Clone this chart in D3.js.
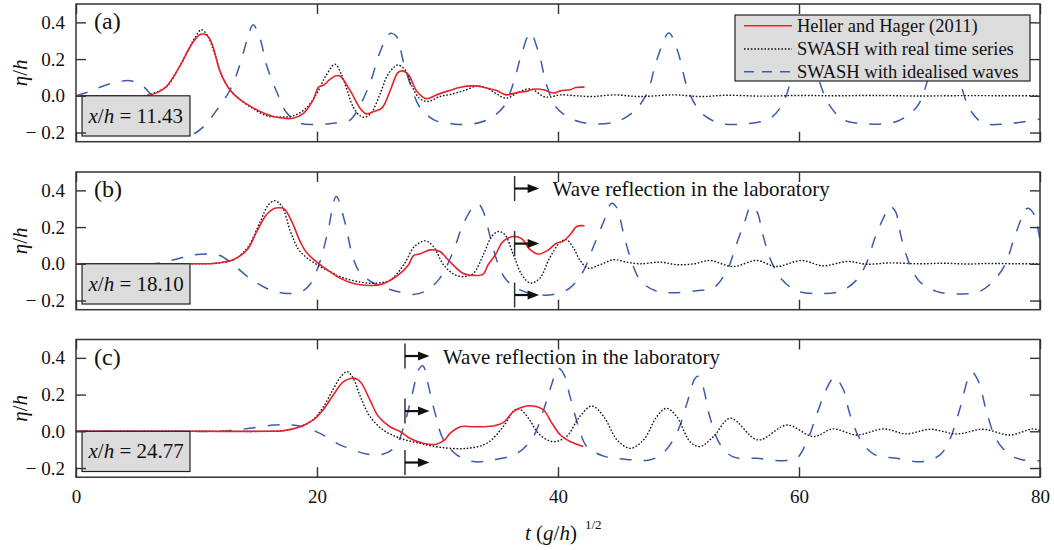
<!DOCTYPE html>
<html><head><meta charset="utf-8">
<script src="https://cdn.jsdelivr.net/npm/d3@7"></script>
<style>
html,body{margin:0;padding:0;background:#fff;}
svg{display:block;font-family:"Liberation Serif","Times New Roman",serif;}
svg text{font-family:"Liberation Serif","Times New Roman",serif;}
</style></head><body>
<svg id="chart" width="1054" height="550"></svg>
<script>
// ---- Time series [t (g/h)^1/2, eta/h] ----
// (a) x/h = 11.43
const hellerA = [[0,0],[2,0],[4,0],[5.9,0.0],[6.8,0.02],[7.5,0.05],[8.6,0.16],[9.5,0.27],[10.2,0.33],[10.7,0.335],[11.1,0.31],[11.4,0.26],[12,0.125],[12.8,0.03],[13.6,-0.02],[14.7,-0.066],[15.8,-0.1],[16.9,-0.12],[18,-0.122],[18.9,-0.094],[19.7,-0.02],[20.1,0.045],[20.6,0.06],[21,0.085],[21.5,0.108],[21.9,0.108],[22.7,0.035],[23.6,-0.07],[24.1,-0.098],[24.7,-0.085],[25.4,-0.066],[26.1,0.033],[26.7,0.125],[27.1,0.136],[27.6,0.114],[28.3,0.024],[29.1,-0.016],[29.9,0.005],[31,0.029],[31.9,0.047],[33,0.054],[33.8,0.047],[34.9,0.029],[35.7,0.005],[36.6,0.018],[37.4,0.024],[37.95,0.036],[38.8,0.033],[39.6,0.015],[40.2,0.027],[41,0.033],[41.5,0.045],[42.2,0.047]];
const swashRealA = [[0,0],[5,0],[6,0.005],[7.5,0.05],[8.6,0.16],[9.4,0.26],[9.9,0.32],[10.4,0.36],[10.9,0.33],[11.5,0.23],[12.1,0.11],[12.8,0.03],[13.6,-0.02],[14.7,-0.07],[15.8,-0.108],[16.9,-0.115],[18,-0.11],[19.1,-0.067],[20,0.015],[20.7,0.105],[21.5,0.172],[22,0.12],[22.5,0.03],[23,-0.06],[23.6,-0.11],[24,-0.116],[24.5,-0.094],[25.2,0.005],[25.8,0.105],[26.3,0.15],[26.7,0.168],[27.3,0.142],[27.9,0.05],[28.5,-0.013],[29.2,-0.031],[30.2,-0.004],[31.3,0.011],[32.4,0.033],[33.3,0.054],[34.1,0.042],[34.9,0.011],[35.7,-0.013],[36.6,0.015],[37.4,0.036],[37.95,0.033],[38.8,-0.004],[39.3,-0.007],[40.2,0.005],[41.5,0.0],[42.9,-0.004],[44.6,0.005],[46.8,-0.004],[49.6,0.005],[51.8,-0.004],[54,0.003],[57,-0.002],[60,0.002],[63,0],[66,0.002],[70,-0.001],[74,0.001],[78,0],[80,0]];
const swashIdealA = [[0,0],[1,0.02],[2,0.047],[3.2,0.072],[4.5,0.082],[5.6,0.05],[6.5,-0.02],[7.5,-0.12],[8.5,-0.19],[9.2,-0.21],[9.8,-0.205],[10.6,-0.167],[11.7,-0.076],[12.8,0.033],[13.6,0.169],[14.2,0.305],[14.7,0.387],[15.3,0.305],[15.8,0.169],[16.7,0.015],[17.5,-0.094],[18.6,-0.149],[20.25,-0.155],[21.5,-0.148],[22.7,-0.134],[23.3,-0.085],[24.4,0.069],[25.2,0.233],[25.9,0.332],[26.2,0.34],[26.6,0.323],[27.2,0.178],[27.9,0.033],[28.5,-0.058],[29.7,-0.131],[31.3,-0.153],[33,-0.153],[34.4,-0.122],[35.5,-0.058],[36.3,0.069],[37,0.233],[37.7,0.342],[38.4,0.233],[39.1,0.05],[39.9,-0.067],[41.3,-0.131],[42.9,-0.153],[44.9,-0.14],[46.3,-0.085],[47.4,0.015],[48.2,0.196],[49.2,0.342],[49.9,0.25],[50.7,0.05],[51.4,-0.05],[52,-0.1],[53.4,-0.149],[55.6,-0.153],[57.6,-0.122],[58.6,-0.049],[59.3,0.078],[59.9,0.25],[60.6,0.342],[61.2,0.25],[61.7,0.078],[62.6,-0.058],[63.7,-0.131],[65.7,-0.153],[68.1,-0.14],[69.8,-0.058],[70.6,0.069],[71.3,0.25],[72,0.342],[72.7,0.25],[73.4,0.069],[74.2,-0.076],[75.3,-0.149],[77.2,-0.153],[80,-0.127]];

// (b) x/h = 18.10
const hellerB = [[0,0],[5,0],[10,0],[11.4,0.002],[12.3,0.01],[13.05,0.022],[14.2,0.076],[15,0.176],[15.8,0.267],[16.4,0.3],[16.9,0.305],[17.3,0.298],[17.9,0.231],[18.6,0.122],[19.1,0.064],[20.25,-0.005],[21.35,-0.055],[21.9,-0.078],[22.7,-0.1],[23.3,-0.111],[24.7,-0.118],[25.5,-0.109],[26.6,-0.069],[27.6,-0.005],[28,0.045],[28.5,0.053],[29.4,0.076],[30.2,0.067],[31,0.013],[32.1,-0.051],[33,-0.063],[33.8,-0.056],[34.2,-0.005],[34.8,0.049],[35.45,0.122],[36.3,0.149],[37,0.136],[37.7,0.076],[38.4,0.053],[39.1,0.071],[39.9,0.113],[40.4,0.122],[41,0.158],[41.55,0.203],[42.2,0.207]];
const swashRealB = [[0,0],[10,0],[11.5,0.003],[13.05,0.022],[14.2,0.085],[15.3,0.231],[15.96,0.321],[16.5,0.343],[17.1,0.312],[17.8,0.176],[18.6,0.067],[20.25,-0.015],[21.35,-0.051],[21.9,-0.07],[23.6,-0.1],[24.95,-0.105],[26.1,-0.087],[27.2,-0.005],[28.1,0.095],[29,0.125],[29.65,0.095],[30.5,-0.005],[31.45,-0.06],[32.3,-0.069],[33,-0.051],[33.8,0.049],[34.5,0.149],[35.05,0.176],[35.6,0.158],[36.3,0.049],[37,-0.06],[37.7,-0.105],[38.5,-0.078],[39.3,0.031],[40.2,0.118],[40.7,0.131],[41.3,0.085],[41.8,0.022],[42.5,-0.024],[43.5,-0.005],[44.6,0.022],[45.7,0.009],[46.8,0],[48.5,0.009],[49.9,-0.005],[51.3,0],[52.6,0.018],[54.5,-0.015],[56.5,0.018],[58.1,-0.015],[60.2,0.018],[62,-0.011],[64,0.013],[65.6,-0.002],[67.6,0.005],[70,0],[72,0.003],[74,-0.001],[76,0.002],[78,0],[80,0.001]];
const swashIdealB = [[0,0],[6,0],[7,0.005],[8.1,0.022],[9.5,0.045],[10.85,0.053],[11.95,0.045],[13.05,-0.005],[14.4,-0.078],[15.8,-0.133],[17.2,-0.16],[18.6,-0.154],[19.4,-0.114],[20.25,0.013],[20.9,0.176],[21.6,0.367],[22.3,0.23],[23,0.031],[23.6,-0.05],[24.95,-0.114],[26.6,-0.15],[28,-0.167],[29.1,-0.145],[30.2,-0.078],[31.3,0.067],[32.1,0.212],[33,0.312],[33.4,0.325],[33.8,0.285],[34.4,0.14],[35.05,-0.005],[35.7,-0.087],[36.85,-0.142],[38.2,-0.167],[39.6,-0.167],[41,-0.131],[42.1,-0.04],[42.9,0.087],[43.8,0.231],[44.45,0.33],[44.9,0.303],[45.4,0.176],[46.1,0.013],[46.9,-0.096],[48.2,-0.15],[49.6,-0.158],[51.5,-0.147],[52.9,-0.131],[54,-0.04],[54.8,0.105],[55.5,0.231],[56,0.312],[56.5,0.285],[57,0.158],[57.7,0.013],[58.6,-0.087],[59.8,-0.147],[61.5,-0.162],[63.4,-0.15],[64.8,-0.087],[65.6,0.004],[66.3,0.14],[67,0.249],[67.55,0.312],[68,0.285],[68.5,0.14],[69.2,-0.005],[70,-0.096],[71.4,-0.15],[73.1,-0.165],[75,-0.15],[76.1,-0.096],[77.1,-0.005],[77.9,0.149],[78.6,0.267],[78.95,0.303],[79.45,0.276],[80,0.131]];

// (c) x/h = 24.77
const hellerC = [[0,0],[10,0],[16,0],[17.2,0.003],[18.6,0.025],[19.7,0.062],[20.5,0.116],[21.35,0.198],[22.2,0.27],[22.9,0.289],[23.3,0.285],[23.7,0.261],[24.4,0.17],[25.1,0.08],[26.05,0.025],[26.9,-0.001],[27.7,-0.038],[28.8,-0.065],[29.9,-0.071],[30.6,-0.047],[31,-0.014],[31.9,0.025],[33,0.025],[34.6,0.029],[35.45,0.047],[36.3,0.107],[37,0.131],[37.95,0.138],[38.8,0.116],[39.5,0.044],[40.2,-0.02],[41,-0.056],[42.1,-0.083]];
const swashRealC = [[0,0],[10,0],[16,0],[17.2,0.003],[18.6,0.025],[19.7,0.065],[20.5,0.13],[21.35,0.23],[22,0.3],[22.5,0.325],[23,0.29],[23.6,0.189],[24.4,0.08],[25.5,0.007],[26.9,-0.038],[28.5,-0.065],[30.2,-0.087],[32.4,-0.093],[34.1,-0.065],[35.45,0.025],[36.4,0.116],[36.85,0.12],[37.55,0.071],[38.5,-0.02],[39.6,-0.056],[40.7,-0.029],[41.8,0.08],[42.8,0.138],[43.8,0.08],[44.9,-0.047],[46,-0.093],[47.1,-0.047],[48.2,0.08],[49,0.125],[49.85,0.08],[51,-0.06],[51.8,-0.083],[52.9,-0.029],[54.3,0.071],[56.6,-0.047],[59,0.034],[61.2,-0.029],[62.8,0.013],[64.8,-0.02],[67,0.013],[68.9,-0.014],[70.9,0.011],[73.1,-0.014],[75.3,0.011],[77.5,-0.02],[79.4,0.013],[80,0.004]];
const swashIdealC = [[0,0],[12,0],[13,0.005],[14.4,0.016],[16.4,0.034],[18,0.034],[19.1,0.02],[20.25,-0.011],[21.9,-0.074],[22.7,-0.093],[24.1,-0.124],[25.5,-0.124],[26.5,-0.084],[27.2,0.025],[27.85,0.189],[28.5,0.343],[28.8,0.356],[29.2,0.261],[29.8,0.098],[30.5,-0.047],[31.6,-0.128],[33,-0.165],[34.6,-0.156],[36.6,-0.12],[37.95,-0.029],[38.8,0.116],[39.5,0.261],[40,0.343],[40.45,0.316],[41,0.189],[41.7,0.025],[42.4,-0.084],[43.8,-0.135],[45.7,-0.153],[47.6,-0.156],[48.7,-0.12],[49.85,-0.011],[50.7,0.152],[51.3,0.28],[51.6,0.3],[52,0.25],[52.6,0.079],[53.4,-0.065],[54.5,-0.138],[56.5,-0.147],[58.7,-0.16],[59.8,-0.147],[60.6,-0.065],[61.5,0.098],[62.3,0.234],[62.9,0.295],[63.1,0.289],[63.7,0.225],[64.2,0.098],[65.1,-0.047],[66.2,-0.124],[68.1,-0.147],[70.3,-0.165],[71.7,-0.128],[72.5,-0.047],[73.4,0.134],[74.05,0.289],[74.4,0.32],[74.9,0.27],[75.6,0.098],[76.4,-0.047],[77.5,-0.128],[78.6,-0.156],[80,-0.16]];

// ---- Labels and ticks ----
const xTicks = [0, 20, 40, 60, 80];
const yTicks = [-0.2, 0, 0.2, 0.4];
const panelLetters = ["(a)", "(b)", "(c)"];
const gaugeValues = ["11.43", "18.10", "24.77"];
const seriesNames = ["Heller and Hager (2011)", "SWASH with real time series", "SWASH with idealised waves"];
const reflectionTimes = [null, 36.4, 27.3];
const reflectionArrowLevels = [0.41, 0.11, -0.17];
const reflectionText = "Wave reflection in the laboratory";

const panels = [
  {heller: hellerA, real: swashRealA, ideal: swashIdealA},
  {heller: hellerB, real: swashRealB, ideal: swashIdealB},
  {heller: hellerC, real: swashRealC, ideal: swashIdealC}
];

// ---- Styles ----
const serif = "'Liberation Serif','Times New Roman',serif";
const styles = {
  heller: {stroke: "#e8202a", width: 1.6, dash: null},
  real:   {stroke: "#111111", width: 1.4, dash: "1.6,1.8"},
  ideal:  {stroke: "#3b5cad", width: 1.5, dash: "12,12"}
};

const svg = d3.select("#chart");
const left = 76, right = 1040;
const panelTops = [4, 172, 339.5];
const panelH = 137.7;

const x = d3.scaleLinear().domain([0, 80]).range([left, right]);
const line = d3.line().curve(d3.curveCatmullRom.alpha(0.5));

const defs = svg.append("defs");

panels.forEach((p, i) => {
  const top = panelTops[i];
  const y = d3.scaleLinear().domain([-0.25, 0.5]).range([top + panelH, top]);
  const g = svg.append("g");

  defs.append("clipPath").attr("id", "clip" + i)
    .append("rect").attr("x", left).attr("y", top).attr("width", right - left).attr("height", panelH);

  const plot = g.append("g").attr("clip-path", `url(#clip${i})`);
  line.x(d => x(d[0])).y(d => y(d[1]));

  ["ideal", "real", "heller"].forEach(key => {
    const s = styles[key];
    plot.append("path")
      .attr("d", line(p[key]))
      .attr("fill", "none")
      .attr("stroke", s.stroke)
      .attr("stroke-width", s.width)
      .attr("stroke-dasharray", s.dash)
      .attr("stroke-linejoin", "round");
  });

  // Gauge position box
  const bx0 = x(0.5), bx1 = x(9.46), by0 = y(0), by1 = y(-0.219);
  g.append("rect").attr("x", bx0).attr("y", by0).attr("width", bx1 - bx0).attr("height", by1 - by0)
    .attr("fill", "#dcdcdd").attr("stroke", "#222").attr("stroke-width", 1.2);
  const gt = g.append("text").attr("x", bx0 + 6.5).attr("y", by0 + 27)
    .attr("font-size", 21).attr("fill", "#111");
  gt.append("tspan").attr("font-style", "italic").text("x");
  gt.append("tspan").text("/");
  gt.append("tspan").attr("font-style", "italic").text("h");
  gt.append("tspan").text(" = " + gaugeValues[i]);

  // Panel letter
  g.append("text").attr("x", 94).attr("y", top + 25).attr("font-size", 24).attr("fill", "#111")
    .text(panelLetters[i]);

  // Axes: inward ticks on all four sides
  const axB = d3.axisBottom(x).tickValues(xTicks).tickSize(-10).tickPadding(12)
    .tickFormat(i === 2 ? d3.format("d") : "");
  const axT = d3.axisTop(x).tickValues(xTicks).tickSize(-10).tickFormat("");
  const fmt = d => d < 0 ? "\u2212 " + Math.abs(d).toFixed(1) : d.toFixed(1);
  const axL = d3.axisLeft(y).tickValues(yTicks).tickSize(-10).tickPadding(11).tickFormat(fmt);
  const axR = d3.axisRight(y).tickValues(yTicks).tickSize(-10).tickFormat("");

  const axes = [
    g.append("g").attr("transform", `translate(0,${top + panelH})`).call(axB),
    g.append("g").attr("transform", `translate(0,${top})`).call(axT),
    g.append("g").attr("transform", `translate(${left},0)`).call(axL),
    g.append("g").attr("transform", `translate(${right},0)`).call(axR)
  ];
  axes.forEach(a => {
    a.attr("font-family", serif).attr("font-size", 19);
    a.select(".domain").remove();
    a.selectAll(".tick line").attr("stroke", "#333").attr("stroke-width", 1.4);
    a.selectAll(".tick text").attr("fill", "#111");
  });

  // Frame
  g.append("rect").attr("x", left).attr("y", top).attr("width", right - left).attr("height", panelH)
    .attr("fill", "none").attr("stroke", "#333").attr("stroke-width", 1.5);

  // Y-axis title
  const yt = g.append("text")
    .attr("transform", `translate(27,${top + panelH / 2}) rotate(-90)`)
    .attr("text-anchor", "middle").attr("font-size", 21).attr("fill", "#111");
  yt.append("tspan").attr("font-style", "italic").text("\u03b7");
  yt.append("tspan").text("/");
  yt.append("tspan").attr("font-style", "italic").text("h");

  // Reflection markers
  if (reflectionTimes[i] !== null) {
    const xr = x(reflectionTimes[i]);
    reflectionArrowLevels.forEach(lv => {
      const yy = y(lv);
      g.append("line").attr("x1", xr).attr("x2", xr).attr("y1", yy - 12.5).attr("y2", yy + 12.5)
        .attr("stroke", "#333").attr("stroke-width", 1.5);
      g.append("line").attr("x1", xr).attr("x2", xr + 15).attr("y1", yy).attr("y2", yy)
        .attr("stroke", "#111").attr("stroke-width", 2.2);
      g.append("path").attr("d", `M${xr + 13},${yy - 4.5} L${xr + 24.5},${yy} L${xr + 13},${yy + 4.5} Z`)
        .attr("fill", "#111");
    });
    g.append("text").attr("x", xr + 38).attr("y", y(reflectionArrowLevels[0]) + 7.5)
      .attr("font-size", 21).attr("fill", "#111").text(reflectionText);
  }

  // Legend in the first panel
  if (i === 0) {
    const lg = g.append("g");
    lg.append("rect").attr("x", 735).attr("y", 15).attr("width", 295).attr("height", 66)
      .attr("fill", "#dcdcdd").attr("stroke", "#222").attr("stroke-width", 1.2);
    const rowY = [25.7, 49, 71.7];
    const legendDash = {heller: null, real: "1.6,1.8", ideal: "10,8"};
    ["heller", "real", "ideal"].forEach((key, k) => {
      const s = styles[key];
      lg.append("line").attr("x1", 744).attr("x2", 792).attr("y1", rowY[k]).attr("y2", rowY[k])
        .attr("stroke", s.stroke).attr("stroke-width", s.width).attr("stroke-dasharray", legendDash[key]);
      lg.append("text").attr("x", 797).attr("y", rowY[k] + 6.3).attr("font-size", 18.5).attr("fill", "#111")
        .text(seriesNames[k]);
    });
  }
});

// X-axis title
const xt = svg.append("text").attr("x", 525).attr("y", 540).attr("font-size", 21).attr("fill", "#111");
xt.append("tspan").attr("font-style", "italic").text("t");
xt.append("tspan").text(" (");
xt.append("tspan").attr("font-style", "italic").text("g");
xt.append("tspan").text("/");
xt.append("tspan").attr("font-style", "italic").text("h");
xt.append("tspan").text(")");
xt.append("tspan").attr("dx", 8).attr("dy", -11).attr("font-size", 13).text("1/2");
</script>
</body></html>
